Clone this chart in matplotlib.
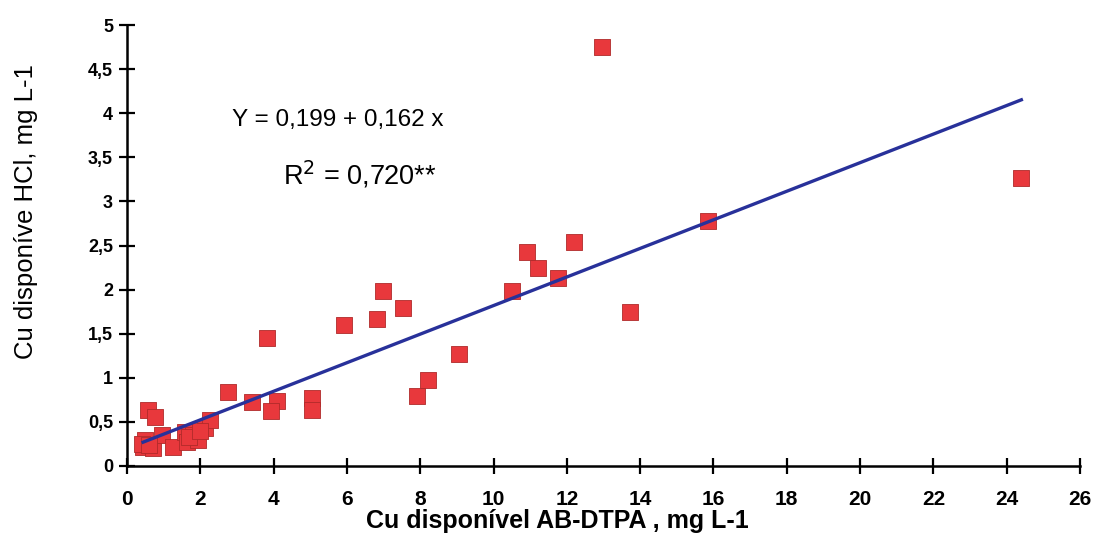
import matplotlib
matplotlib.use('Agg')
import matplotlib.pyplot as plt
import numpy as np

# data (Cu AB-DTPA vs Cu HCl, mg L-1)
cu_dtpa = [12.96, 24.4, 15.85, 12.2, 10.9, 11.2, 11.75, 10.5, 6.98, 13.72,
           7.53, 6.82, 5.92, 9.06, 3.82, 8.2, 7.9, 5.05, 5.05, 2.76,
           3.41, 4.09, 3.93, 0.57, 0.76, 0.44, 0.49, 0.7, 0.95, 1.26,
           1.58, 1.63, 1.8, 1.94, 2.13, 2.26, 0.4, 0.6, 1.7, 2.0]
cu_hcl = [4.75, 3.27, 2.78, 2.54, 2.43, 2.24, 2.13, 1.98, 1.98, 1.75,
          1.79, 1.67, 1.60, 1.27, 1.45, 0.97, 0.79, 0.77, 0.63, 0.84,
          0.73, 0.74, 0.62, 0.63, 0.56, 0.22, 0.30, 0.20, 0.35, 0.22,
          0.39, 0.27, 0.35, 0.30, 0.43, 0.52, 0.25, 0.24, 0.33, 0.40]

# fitted equation printed on the chart
b0, b1 = 0.199, 0.162
fit_x = [0.44, 24.4]

x_ticks = list(range(0, 27, 2))
y_ticks = [0, 0.5, 1, 1.5, 2, 2.5, 3, 3.5, 4, 4.5, 5]

def comma(v):
    s = ('%g' % v)
    return s.replace('.', ',')

fam = ['Liberation Sans', 'DejaVu Sans']

fig = plt.figure(figsize=(10.99, 5.35), dpi=100)
ax = fig.add_axes([127/1099, 69/535, 953/1099, 441/535])

ax.scatter(cu_dtpa, cu_hcl, marker='s', s=140, color='#e8383c', edgecolors='#b02a2a',
           linewidths=0.6, zorder=2)
fx = np.array(fit_x)
ax.plot(fx, b0 + b1*fx, color='#28319a', lw=2.4, zorder=3)

ax.set_xlim(0, 26)
ax.set_ylim(0, 5)
ax.set_xticks(x_ticks)
ax.set_yticks(y_ticks)
ax.set_xticklabels([str(t) for t in x_ticks])
ax.set_yticklabels([comma(t) for t in y_ticks])

for side in ['top', 'right']:
    ax.spines[side].set_visible(False)
for side in ['left', 'bottom']:
    ax.spines[side].set_linewidth(1.8)
ax.tick_params(direction='inout', length=12, width=1.6, pad=4)
ax.tick_params(axis='x', pad=11)

for lab in ax.get_xticklabels():
    lab.set_fontfamily(fam); lab.set_fontweight('bold'); lab.set_fontsize(15)
for lab in ax.get_yticklabels():
    lab.set_fontfamily(fam); lab.set_fontweight('bold'); lab.set_fontsize(13)

ax.set_xlabel('Cu disponível AB-DTPA , mg L-1', family=fam, weight='bold', fontsize=18)
ax.xaxis.set_label_coords(0.452, -0.097)
ax.set_ylabel('Cu disponíve HCl, mg L-1', family=fam, fontsize=18.5)
ax.yaxis.set_label_coords(-0.093, 0.576)

ax.text((338-127)/953, (466-120)/441, 'Y = 0,199 + 0,162 x', transform=ax.transAxes,
        family=fam, fontsize=17.5, ha='center', va='center')
ax.text((360-127)/953, (466-175)/441, r'R$^2$ = 0,720**', transform=ax.transAxes,
        family=fam, fontsize=19.5, ha='center', va='center')

fig.savefig('out.png', dpi=100)
